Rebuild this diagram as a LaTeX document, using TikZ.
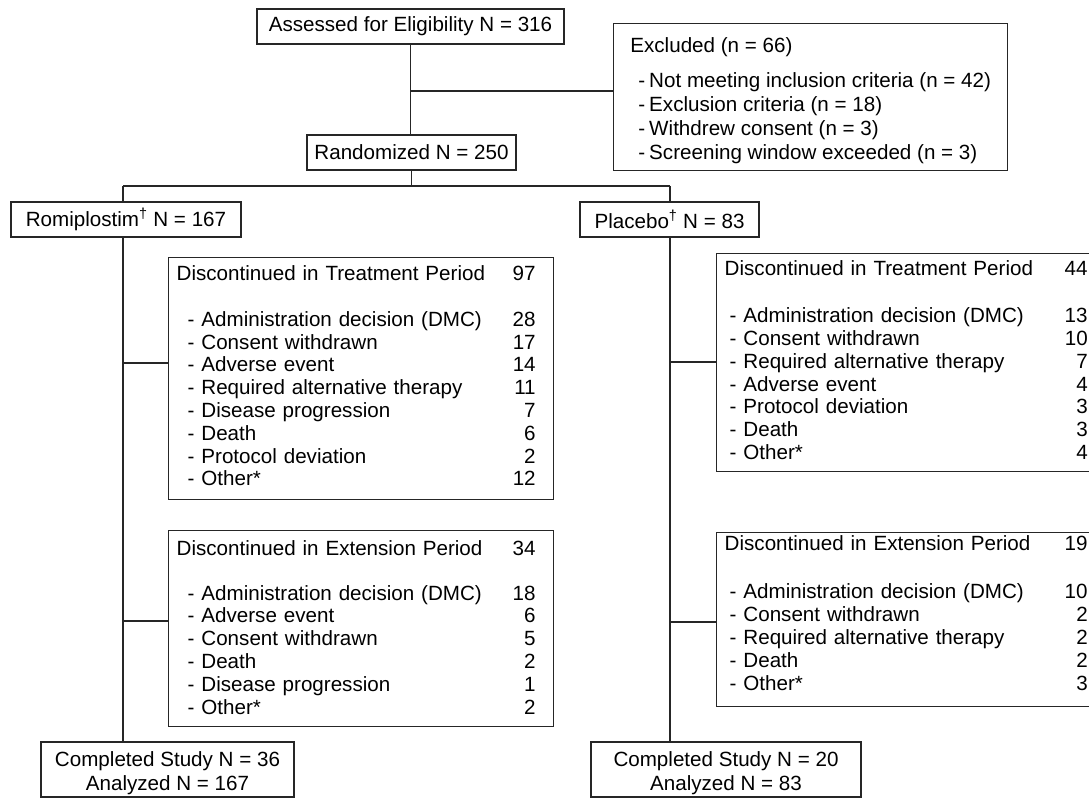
\documentclass[tikz,border=0pt]{standalone}
\usepackage{fontspec}
\setmainfont{Liberation Sans}
\usetikzlibrary{positioning}

\newcommand{\drow}[2]{\makebox[\hsize][l]{#1\hfill#2\hspace{10pt}}}
\newcommand{\ditem}[3]{\drow{\hspace{#1}- #2}{#3}}

\begin{document}
\begin{tikzpicture}[
    x=1pt, y=-1pt,
    box/.style={rectangle, draw=black!85, line width=1.4pt, fill=white,
                inner sep=0pt, align=center,
                font=\fontsize{20.6}{24}\selectfont},
    listbox/.style={box, anchor=north west, align=left, inner xsep=8pt,
                font=\setlength{\parindent}{0pt}\fontsize{20.6}{22.8}\selectfont},
    link/.style={line width=1.4pt, draw=black!85}
  ]
    \useasboundingbox (0,0) rectangle (1089,799);
    \clip (0,0) rectangle (1089,799);

    % Screening
    \node[box, minimum width=307pt, minimum height=35pt] (assess) at (410.5,26.5)
        {Assessed for Eligibility N = 316};
    \node[listbox, minimum width=394pt, minimum height=147pt, inner xsep=0pt,
          font=\setlength{\parindent}{0pt}\fontsize{20.6}{24}\selectfont]
        (excl) at (613,23)
        {\rule{0pt}{22pt}Excluded (n = 66)\\[11pt]
         \hspace{8pt}-\kern4pt Not meeting inclusion criteria (n = 42)\\
         \hspace{8pt}-\kern4pt Exclusion criteria (n = 18)\\
         \hspace{8pt}-\kern4pt Withdrew consent (n = 3)\\
         \hspace{8pt}-\kern4pt Screening window exceeded (n = 3)};
    \node[box, minimum width=209pt, minimum height=35pt] (rand) at (411.5,152.5)
        {Randomized N = 250};

    % Arms
    \node[box, minimum width=230pt, minimum height=35pt] (romi) at (126,219.5)
        {Romiplostim\textsuperscript{†} N = 167};
    \node[box, minimum width=179pt, minimum height=35pt] (plac) at (669.5,219.5)
        {Placebo\textsuperscript{†} N = 83};

    % Romiplostim discontinuations
    \node[listbox, minimum width=385pt, minimum height=242pt, text width=369pt]
        (treatL) at (168,257)
        {\drow{Discontinued in Treatment Period}{97}\\[23pt]
         \ditem{11pt}{Administration decision (DMC)}{28}\\
         \ditem{11pt}{Consent withdrawn}{17}\\
         \ditem{11pt}{Adverse event}{14}\\
         \ditem{11pt}{Required alternative therapy}{11}\\
         \ditem{11pt}{Disease progression}{7}\\
         \ditem{11pt}{Death}{6}\\
         \ditem{11pt}{Protocol deviation}{2}\\
         \ditem{11pt}{Other*\rule[-6pt]{0pt}{0pt}}{12}};
    \node[listbox, minimum width=385pt, minimum height=196pt, text width=369pt]
        (extL) at (168,530)
        {\drow{Discontinued in Extension Period}{34}\\[22pt]
         \ditem{11pt}{Administration decision (DMC)}{18}\\
         \ditem{11pt}{Adverse event}{6}\\
         \ditem{11pt}{Consent withdrawn}{5}\\
         \ditem{11pt}{Death}{2}\\
         \ditem{11pt}{Disease progression}{1}\\
         \ditem{11pt}{Other*\rule[-3pt]{0pt}{0pt}}{2}};

    % Placebo discontinuations
    \node[listbox, minimum width=389pt, minimum height=218pt, text width=373pt]
        (treatR) at (716,253)
        {\drow{Discontinued in Treatment Period}{44}\\[24pt]
         \ditem{5pt}{Administration decision (DMC)}{13}\\
         \ditem{5pt}{Consent withdrawn}{10}\\
         \ditem{5pt}{Required alternative therapy}{7}\\
         \ditem{5pt}{Adverse event}{4}\\
         \ditem{5pt}{Protocol deviation}{3}\\
         \ditem{5pt}{Death}{3}\\
         \ditem{5pt}{Other*\rule[-5pt]{0pt}{0pt}}{4}};
    \node[listbox, minimum width=389pt, minimum height=174pt, text width=373pt]
        (extR) at (716,532)
        {\drow{Discontinued in Extension Period}{19}\\[26pt]
         \ditem{5pt}{Administration decision (DMC)}{10}\\
         \ditem{5pt}{Consent withdrawn}{2}\\
         \ditem{5pt}{Required alternative therapy}{2}\\
         \ditem{5pt}{Death}{2}\\
         \ditem{5pt}{Other*\rule[-14pt]{0pt}{0pt}}{3}};

    % Completed
    \node[box, minimum width=253pt, minimum height=55pt] (compL) at (167.5,769.5)
        {\rule{0pt}{23pt}Completed Study N = 36\\Analyzed N = 167};
    \node[box, minimum width=270pt, minimum height=55pt] (compR) at (726,769.5)
        {\rule{0pt}{23pt}Completed Study N = 20\\Analyzed N = 83};

    % Junctions
    \coordinate (exj) at (411,91);
    \coordinate (jl) at (123,186);
    \coordinate (jr) at (670,186);
    \coordinate (bl1) at (123,363);
    \coordinate (bl2) at (123,621);
    \coordinate (br1) at (670,362);
    \coordinate (br2) at (670,622);

    % Lines
    \draw[link] (assess.south) -- (assess.south |- rand.north);
    \draw[link] (exj) -- (exj -| excl.west);
    \draw[link] (rand.south) -- (rand.south |- jl);
    \draw[link] (jl) -- (jr);
    \draw[link] (jl) -- (jl |- romi.north);
    \draw[link] (jl |- romi.south) -- (jl |- compL.north);
    \draw[link] (jr) -- (jr |- plac.north);
    \draw[link] (jr |- plac.south) -- (jr |- compR.north);
    \draw[link] (bl1) -- (bl1 -| treatL.west);
    \draw[link] (bl2) -- (bl2 -| extL.west);
    \draw[link] (br1) -- (br1 -| treatR.west);
    \draw[link] (br2) -- (br2 -| extR.west);
\end{tikzpicture}
\end{document}
